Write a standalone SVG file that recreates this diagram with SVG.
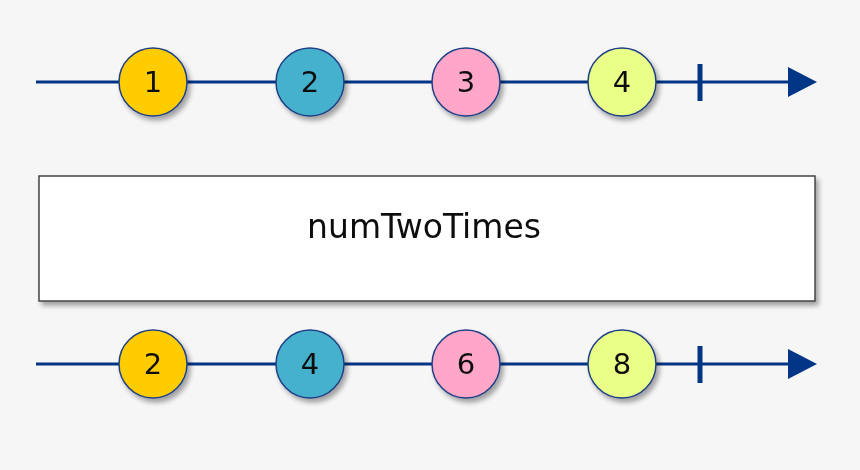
<svg xmlns="http://www.w3.org/2000/svg" width="860" height="470" viewBox="0 0 860 470">
<defs>
<filter id="sh" x="-30%" y="-30%" width="160%" height="160%">
<feGaussianBlur in="SourceAlpha" stdDeviation="2.5"/>
<feOffset dx="3" dy="4" result="b"/>
<feComponentTransfer><feFuncA type="linear" slope="0.35"/></feComponentTransfer>
<feMerge><feMergeNode/><feMergeNode in="SourceGraphic"/></feMerge>
</filter>
</defs>
<style>
.line{stroke:#013585;stroke-width:3;fill:none}
.tick{stroke:#013585;stroke-width:5;fill:none}
.head{fill:#013585}
.c{stroke:#1f3f85;stroke-width:1.5}
.n{font-family:"DejaVu Sans",Verdana,sans-serif;font-size:29px;fill:#111;text-anchor:middle;dominant-baseline:central}
.box{fill:#fff;stroke:#444;stroke-width:1.5}
.lbl{font-family:"DejaVu Sans",Verdana,sans-serif;font-size:33px;fill:#111;text-anchor:middle}
</style>
<rect width="860" height="470" fill="#f6f6f6"/>
<g id="connectors">
<line class="line" x1="36" y1="82" x2="790" y2="82"/>
<line class="tick" x1="700" y1="64" x2="700" y2="101"/>
<polygon class="head" points="788,67 817,82 788,97"/>
<line class="line" x1="36" y1="364" x2="790" y2="364"/>
<line class="tick" x1="700" y1="346" x2="700" y2="383"/>
<polygon class="head" points="788,349 817,364 788,379"/>
</g>
<g id="in1" filter="url(#sh)"><circle class="c" cx="153" cy="82" r="34" fill="#ffcc00"/><text class="n" x="153" y="82">1</text></g>
<g id="in2" filter="url(#sh)"><circle class="c" cx="310" cy="82" r="34" fill="#45b1cc"/><text class="n" x="310" y="82">2</text></g>
<g id="in3" filter="url(#sh)"><circle class="c" cx="466" cy="82" r="34" fill="#ffa6c9"/><text class="n" x="466" y="82">3</text></g>
<g id="in4" filter="url(#sh)"><circle class="c" cx="622" cy="82" r="34" fill="#eaff88"/><text class="n" x="622" y="82">4</text></g>
<g id="op" filter="url(#sh)"><rect class="box" x="39" y="176" width="776" height="125"/><text class="lbl" x="424" y="238">numTwoTimes</text></g>
<g id="out2" filter="url(#sh)"><circle class="c" cx="153" cy="364" r="34" fill="#ffcc00"/><text class="n" x="153" y="364">2</text></g>
<g id="out4" filter="url(#sh)"><circle class="c" cx="310" cy="364" r="34" fill="#45b1cc"/><text class="n" x="310" y="364">4</text></g>
<g id="out6" filter="url(#sh)"><circle class="c" cx="466" cy="364" r="34" fill="#ffa6c9"/><text class="n" x="466" y="364">6</text></g>
<g id="out8" filter="url(#sh)"><circle class="c" cx="622" cy="364" r="34" fill="#eaff88"/><text class="n" x="622" y="364">8</text></g>
</svg>
